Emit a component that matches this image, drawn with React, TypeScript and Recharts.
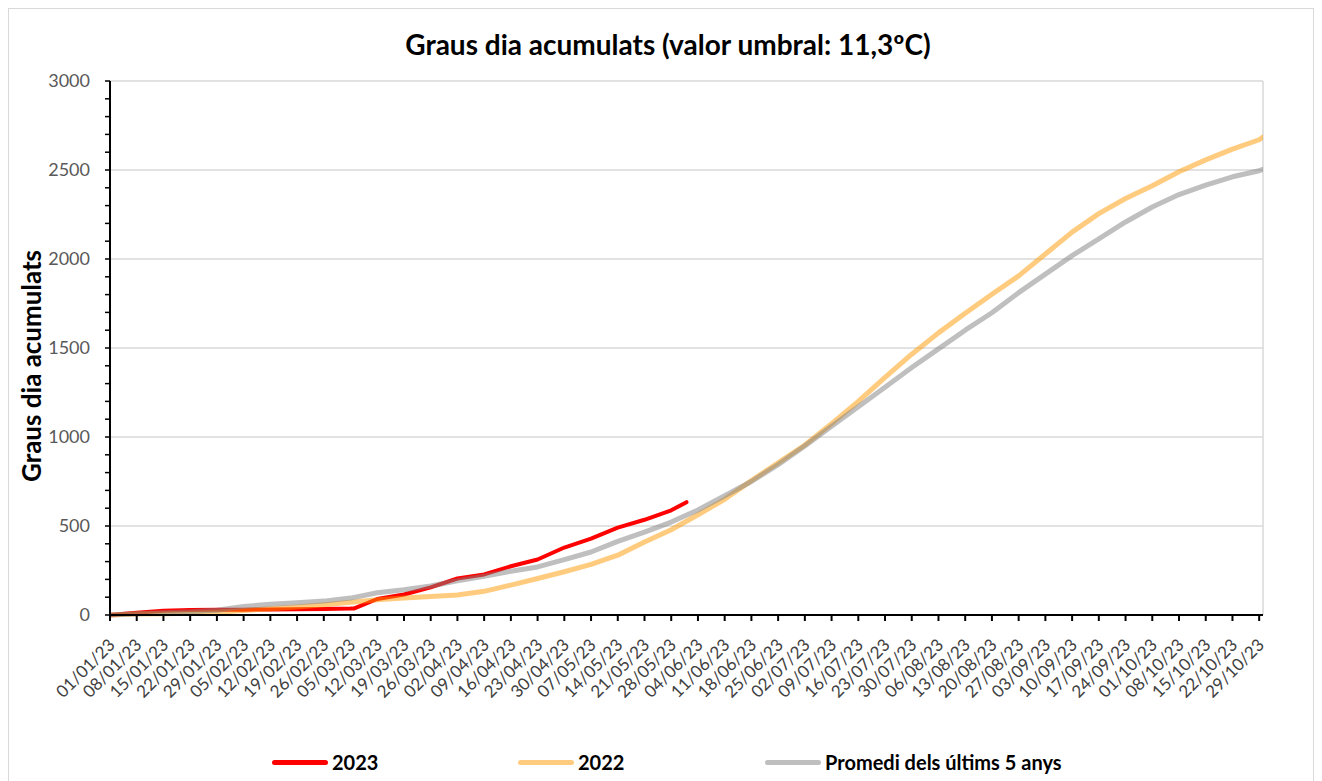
import { CartesianGrid, Legend, Line, LineChart, XAxis, YAxis } from 'recharts'

// dies des de l'1 de gener (0 = 01/01/23)
const tickLabels = [
  '01/01/23', '08/01/23', '15/01/23', '22/01/23', '29/01/23', '05/02/23', '12/02/23', '19/02/23',
  '26/02/23', '05/03/23', '12/03/23', '19/03/23', '26/03/23', '02/04/23', '09/04/23', '16/04/23',
  '23/04/23', '30/04/23', '07/05/23', '14/05/23', '21/05/23', '28/05/23', '04/06/23', '11/06/23',
  '18/06/23', '25/06/23', '02/07/23', '09/07/23', '16/07/23', '23/07/23', '30/07/23', '06/08/23',
  '13/08/23', '20/08/23', '27/08/23', '03/09/23', '10/09/23', '17/09/23', '24/09/23', '01/10/23',
  '08/10/23', '15/10/23', '22/10/23', '29/10/23',
]
const tickDays = tickLabels.map((_, i) => i * 7)

const days = [
  0, 7, 14, 21, 28, 35, 42, 49, 56, 63, 70, 77, 84, 91, 98, 105, 112, 119, 126, 133, 140, 147,
  154, 161, 168, 175, 182, 189, 196, 203, 210, 217, 224, 231, 238, 245, 252, 259, 266, 273, 280,
  287, 294, 301, 302,
]
const promedi = [
  0, 7, 13, 18, 27, 48, 60, 69, 78, 95, 125, 142, 163, 192, 218, 246, 270, 311, 354, 414, 466, 522,
  590, 670, 750, 845, 950, 1060, 1170, 1280, 1390, 1495, 1600, 1698, 1811, 1915, 2019, 2113, 2208,
  2292, 2362, 2415, 2462, 2496, 2504,
]
const serie2022 = [
  0, 5, 7, 10, 16, 25, 35, 45, 58, 72, 86, 95, 104, 112, 133, 168, 205, 243, 284, 336, 410, 479,
  563, 650, 755, 855, 955, 1075, 1200, 1335, 1465, 1585, 1695, 1802, 1905, 2028, 2151, 2255, 2340,
  2412, 2490, 2557, 2617, 2670, 2685,
]

const days2023 = [0, 7, 14, 21, 28, 35, 42, 49, 56, 63, 64, 70, 77, 84, 91, 98, 105, 112, 119, 126, 133, 140, 147, 151]
const serie2023 = [0, 12, 24, 28, 29, 30, 31, 32, 34, 36, 37, 90, 115, 155, 205, 228, 274, 312, 379, 429, 491, 535, 588, 634]

const yTicks = Array.from({ length: 31 }, (_, i) => i * 100)
const gridValues = [500, 1000, 1500, 2000, 2500, 3000]

const allDays = Array.from(new Set([...days, ...days2023])).sort((a, b) => a - b)
const rows = allDays.map((d) => {
  const i = days.indexOf(d)
  const j = days2023.indexOf(d)
  return {
    day: d,
    promedi: i >= 0 ? promedi[i] : null,
    y2022: i >= 0 ? serie2022[i] : null,
    y2023: j >= 0 ? serie2023[j] : null,
  }
})

const FONT = 'Lato, "Noto Sans", sans-serif'

const series = [
  { key: 'y2023', name: '2023', color: '#FF0000', opacity: 1, width: 4 },
  { key: 'y2022', name: '2022', color: '#FF9900', opacity: 0.5, width: 5 },
  { key: 'promedi', name: 'Promedi dels últims 5 anys', color: '#7F7F7F', opacity: 0.5, width: 5 },
]
const legendLeft = [263, 509, 756]

function DateTick(props: any) {
  const { x, y, payload } = props
  return (
    <text
      transform={`translate(${x + 6},${y + 25}) rotate(-45)`}
      textAnchor="end"
      fill="#404040"
      fontSize={17}
      fontFamily={FONT}
    >
      {tickLabels[Math.round(payload.value / 7)]}
    </text>
  )
}

function LegendContent() {
  return (
    <div style={{ position: 'relative', height: 30 }}>
      {series.map((s, i) => (
        <div
          key={s.key}
          style={{ position: 'absolute', left: legendLeft[i], top: 0, height: 30, display: 'flex', alignItems: 'center' }}
        >
          <span
            style={{ display: 'inline-block', width: 56, height: 5, borderRadius: 3, background: s.color, opacity: s.opacity }}
          />
          <span style={{ marginLeft: 4, fontWeight: 700, fontSize: 20, color: '#000', whiteSpace: 'nowrap' }}>{s.name}</span>
        </div>
      ))}
    </div>
  )
}

export default function App() {
  return (
    <div style={{ position: 'relative', width: 1304, height: 772, border: '1px solid #d9d9d9', background: '#fff', fontFamily: FONT }}>
      <LineChart width={1304} height={772} data={rows} margin={{ top: 72, right: 50, left: 0, bottom: 4 }}>
        <CartesianGrid
          stroke="#d9d9d9"
          strokeWidth={1.5}
          horizontalValues={gridValues}
          verticalValues={[302]}
        />
        <XAxis
          dataKey="day"
          type="number"
          domain={[0, 302]}
          ticks={tickDays}
          interval={0}
          height={132}
          tickSize={6}
          tickMargin={0}
          axisLine={{ stroke: '#000', strokeWidth: 2 }}
          tickLine={{ stroke: '#000', strokeWidth: 2 }}
          tick={<DateTick />}
          allowDataOverflow
        />
        <YAxis
          type="number"
          domain={[0, 3000]}
          ticks={yTicks}
          interval={0}
          width={101}
          tickSize={5}
          tickMargin={15}
          axisLine={{ stroke: '#000', strokeWidth: 2 }}
          tickLine={{ stroke: '#000', strokeWidth: 1.5 }}
          tick={{ fill: '#595959', fontSize: 18, fontFamily: FONT }}
          tickFormatter={(v: number) => (v % 500 === 0 ? String(v) : '')}
        />
        {series.map((s) => (
          <Line
            key={s.key}
            type="linear"
            dataKey={s.key}
            name={s.name}
            stroke={s.color}
            strokeOpacity={s.opacity}
            strokeWidth={s.width}
            strokeLinecap="round"
            strokeLinejoin="round"
            dot={false}
            activeDot={false}
            connectNulls
            isAnimationActive={false}
          />
        ))}
        <Legend verticalAlign="bottom" content={<LegendContent />} wrapperStyle={{ left: 0, width: 1304 }} />
      </LineChart>
      <div
        style={{
          position: 'absolute',
          left: 0,
          top: 18,
          width: 1304,
          paddingLeft: 14,
          boxSizing: 'border-box',
          textAlign: 'center',
          fontSize: 28,
          lineHeight: '34px',
          fontWeight: 700,
          color: '#000',
          pointerEvents: 'none',
        }}
      >
        Graus dia acumulats (valor umbral: 11,3ºC)
      </div>
      <div
        style={{
          position: 'absolute',
          left: 22,
          top: 357,
          transform: 'translate(-50%, -50%) rotate(-90deg)',
          fontSize: 26,
          fontWeight: 700,
          color: '#000',
          whiteSpace: 'nowrap',
          pointerEvents: 'none',
        }}
      >
        Graus dia acumulats
      </div>
    </div>
  )
}
